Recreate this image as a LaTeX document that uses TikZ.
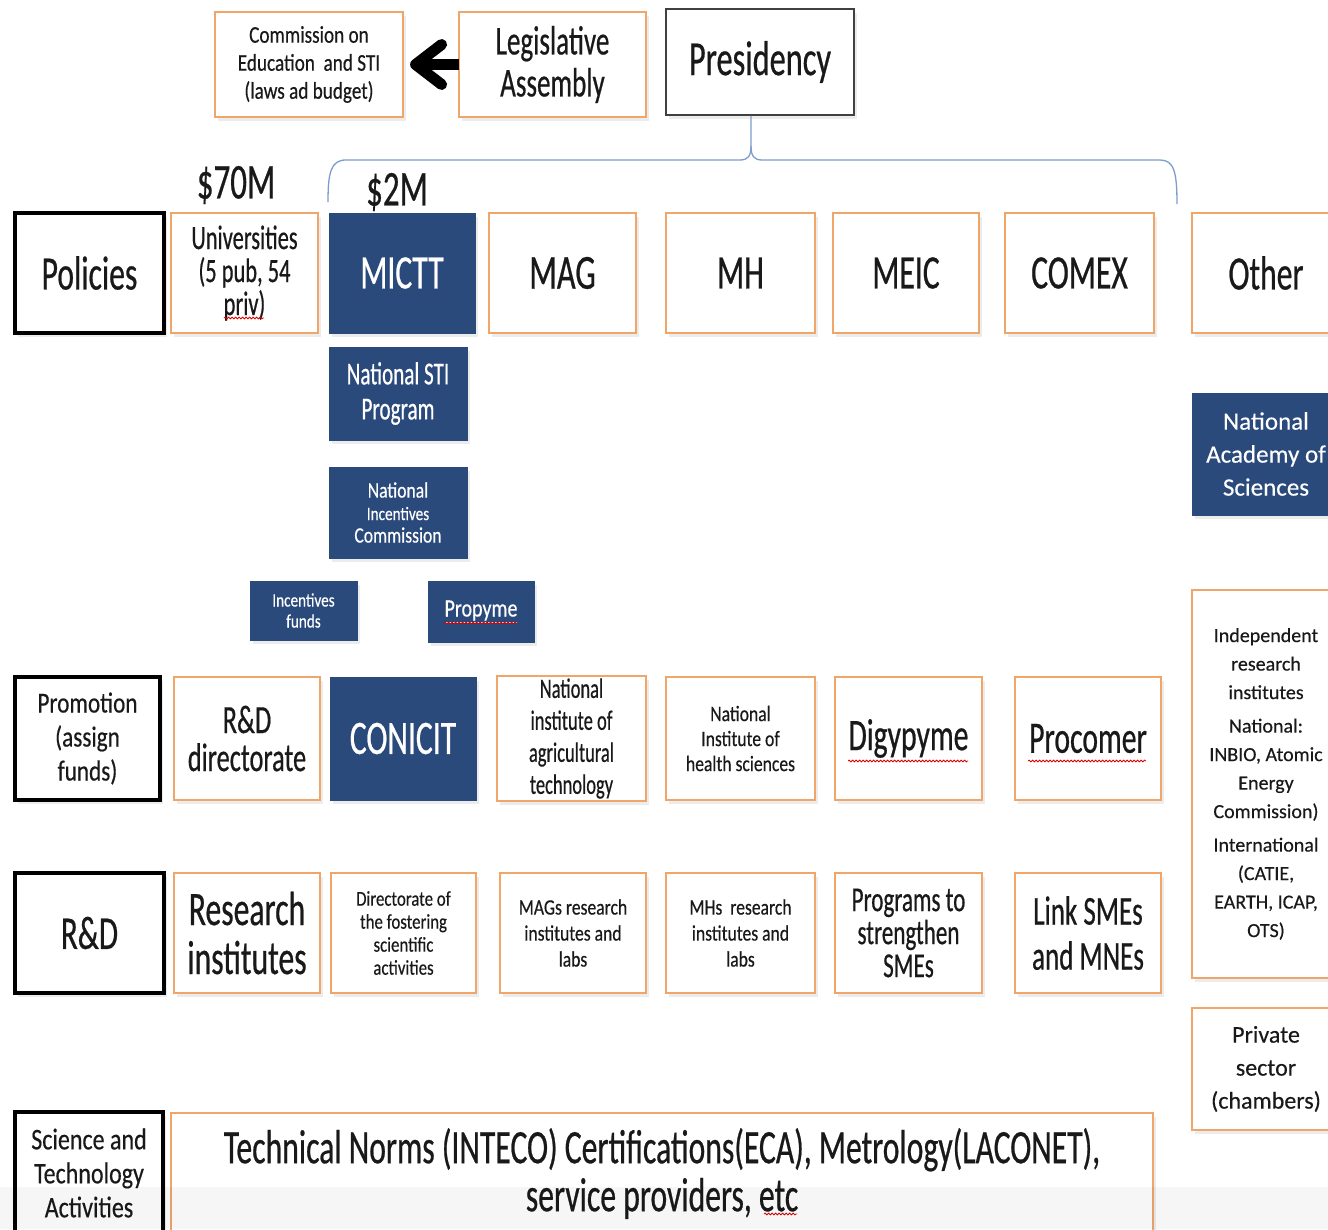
\documentclass[tikz,border=0pt]{standalone}
\usepackage{fontspec}
\setmainfont{Carlito}[FakeStretch=0.66, FakeBold=0.5]
\newfontfamily\midfont{Carlito}[FakeStretch=0.8, FakeBold=0.4]
\newfontfamily\widefont{Carlito}[FakeBold=0.3]
\usetikzlibrary{arrows.meta,shadows,decorations.pathmorphing}
\definecolor{org}{RGB}{240,165,105}
\definecolor{navy}{RGB}{42,74,124}
\definecolor{brk}{RGB}{125,158,205}
\definecolor{txt}{RGB}{25,25,25}
\newcommand\fs[2]{\fontsize{#1}{#2}\selectfont}
\newcommand\bx[7]{\node[#6, minimum width={#4-#2}, minimum height={#5-#3}] (#1) at ({(#2+#4)/2},{(#3+#5)/2}) {#7};}
\begin{document}
\begin{tikzpicture}[x=1pt,y=-1pt,
  shd/.style={drop shadow={opacity=0.15,shadow xshift=3pt,shadow yshift=-4pt}},
  ob/.style={shd, draw=org, line width=2.2pt, fill=white, text=txt, align=center, inner sep=2pt},
  nb/.style={shd, draw=navy, line width=1pt, fill=navy, text=white, align=center, inner sep=2pt},
  kb/.style={shd, draw=black, line width=4pt, fill=white, text=txt, align=center, inner sep=2pt},
  pb/.style={shd, draw=black!75, line width=1.6pt, fill=white, text=txt, align=center, inner sep=2pt},
  lbl/.style={text=txt, font=\fs{50}{50}},
  wavy/.style={draw=red!85!black, line width=0.8pt, decorate, decoration={snake, amplitude=0.9pt, segment length=3.5pt}},
  brace/.style={draw=brk, line width=1.3pt},
  bigarrow/.style={draw=black, line width=11pt, -{Straight Barb[length={26pt 0}, width={40pt 0}, round]}, shorten <=-1pt}
]
\fill[white] (0,0) rectangle (1328,1229);
\clip (0,0) rectangle (1328,1229);

% top row
\bx{com}{215}{12}{403}{117}{ob,font=\midfont\fs{24}{28}}{Commission on\\Education~ and STI\\(laws ad budget)}
\bx{leg}{459}{12}{646}{117}{ob,font=\fs{41}{42}}{Legislative\\Assembly}
\bx{pres}{666}{9}{854}{115}{pb,font=\fs{49}{50}}{Presidency}
\draw[bigarrow] (leg.west) -- ([xshift=6pt]com.east);

% brace
\path (pres.south) ++(-9,0) coordinate (stem);
\coordinate (bl) at (328,202);
\coordinate (br) at (1177,204);
\draw[brace] (bl) .. controls (328,172) and (331,160) .. (346,160) -- (740,160)
  .. controls (748,160) and (751,156) .. (751,146) -- (stem);
\draw[brace] (br) .. controls (1177,172) and (1174,160) .. (1160,160) -- (762,160)
  .. controls (754,160) and (751,156) .. (751,146);

\node[lbl] (m70) at (236,185) {\$70M};
\node[lbl] (m2) at (397,192) {\$2M};

% row 1
\bx{pol}{15}{213}{164}{333}{kb,font=\fs{48}{48}}{Policies}
\bx{uni}{171}{213}{318}{333}{ob,font=\fs{34}{33}}{Universities\\(5 pub, 54\\priv)}
\bx{mictt}{329}{213}{475}{333}{nb,font=\fs{48}{48}}{MICTT}
\bx{mag}{489}{213}{636}{333}{ob,font=\fs{49}{48}}{MAG}
\bx{mh}{666}{213}{815}{333}{ob,font=\fs{48}{48}}{MH}
\bx{meic}{833}{213}{979}{333}{ob,font=\fs{48}{48}}{MEIC}
\bx{comex}{1005}{213}{1154}{333}{ob,font=\fs{48}{48}}{COMEX}
\bx{other}{1192}{213}{1340}{333}{ob,font=\fs{48}{48}}{Other}

% MICTT column
\bx{nsti}{329}{347}{467}{440}{nb,font=\fs{32}{35}}{National STI\\Program}
\bx{nic}{329}{467}{467}{558}{nb,font=\midfont\fs{22}{22.5}}{National\\{\fs{19}{22.5}Incentives}\\Commission}
\bx{ifund}{250}{581}{357}{640}{nb,font=\midfont\fs{19}{21}}{Incentives\\funds}
\bx{propyme}{428}{581}{534}{642}{nb,font=\midfont\fs{25}{26}}{\underline{Propyme}}

% right column
\bx{nas}{1192}{393}{1340}{515}{nb,font=\widefont\fs{25}{33}}{National\\Academy of\\Sciences}
\bx{ind}{1192}{590}{1340}{978}{ob,font=\widefont\fs{20}{28.5}}{Independent\\research\\institutes\\[5pt]National:\\INBIO, Atomic\\Energy\\Commission)\\[5pt]International\\(CATIE,\\EARTH, ICAP,\\OTS)}
\bx{priv}{1192}{1008}{1340}{1130}{ob,font=\widefont\fs{24}{33}}{Private\\sector\\(chambers)}

% row 2
\bx{prom}{15}{677}{160}{800}{kb,font=\midfont\fs{29}{34}}{Promotion\\(assign\\funds)}
\bx{rdd}{174}{677}{320}{800}{ob,font=\fs{40}{38}}{R\&D\\directorate}
\bx{conicit}{330}{677}{476}{800}{nb,font=\fs{48}{48}}{CONICIT}
\bx{inta}{497}{677}{646}{800}{ob,font=\fs{28}{32}}{National\\institute of\\agricultural\\technology}
\bx{inhs}{666}{677}{815}{800}{ob,font=\midfont\fs{22}{25}}{National\\Institute of\\health sciences}
\bx{digy}{835}{677}{982}{800}{ob,font=\fs{45}{40}}{Digypyme}
\bx{proc}{1015}{677}{1161}{800}{ob,font=\fs{45}{40}}{Procomer}

% row 3
\bx{rd}{15}{873}{164}{993}{kb,font=\fs{47}{44}}{R\&D}
\bx{resi}{174}{873}{320}{993}{ob,font=\fs{48}{49}}{Research\\institutes}
\bx{dir}{331}{873}{476}{993}{ob,font=\midfont\fs{21}{23}}{Directorate of\\the fostering\\scientific\\activities}
\bx{magr}{500}{873}{646}{993}{ob,font=\midfont\fs{22}{26}}{MAGs research\\institutes and\\labs}
\bx{mhr}{666}{873}{815}{993}{ob,font=\midfont\fs{22}{26}}{MHs~ research\\institutes and\\labs}
\bx{prog}{835}{873}{982}{993}{ob,font=\fs{35}{33}}{Programs to\\strengthen\\SMEs}
\bx{link}{1015}{873}{1161}{993}{ob,font=\fs{41}{45}}{Link SMEs\\and MNEs}

% row 4
\bx{sta}{15}{1112}{163}{1234}{kb,font=\midfont\fs{30}{34}}{Science and\\Technology\\Activities}
\bx{tech}{171}{1113}{1153}{1234}{ob,font=\fs{48}{48}}{Technical Norms (INTECO) Certifications(ECA), Metrology(LACONET),\\service providers, etc}

% spell-check underlines
\draw[wavy] (224,318) -- (264,318);
\draw[wavy] (444,623) -- (517,623);
\draw[wavy] (848,761) -- (968,761);
\draw[wavy] (1028,761) -- (1146,761);
\draw[wavy] (764,1214) -- (797,1214);

\fill[black, opacity=0.035] (0,1187) rectangle (1328,1229);
\end{tikzpicture}
\end{document}
